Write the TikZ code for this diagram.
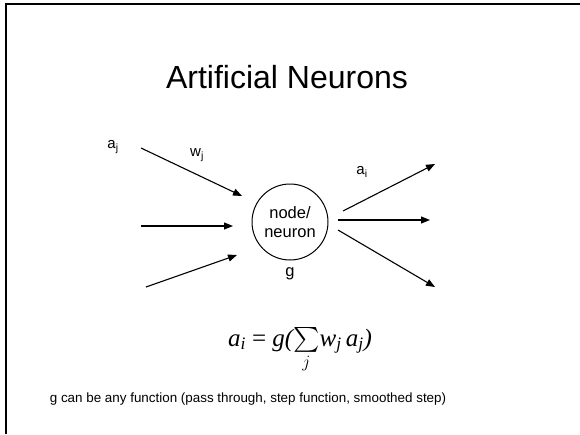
\documentclass[tikz,border=0pt]{standalone}
\usepackage{amsmath}
\usepackage{exscale}
\usepackage{fontspec}
\setmainfont{Liberation Sans}
\newfontfamily\eqfont{Liberation Serif}
\usetikzlibrary{arrows.meta}
\tikzset{
% Neuron body and the weighted links in and out of it
unit node/.style={circle,draw,line width=1pt,minimum size=76pt,inner sep=0pt,align=center,font=\fontsize{16.5}{19}\selectfont},
link/.style={line width=1.1pt,-{Triangle[length=9pt,width=7pt]}},
tag/.style={inner sep=0pt,font=\fontsize{15}{17}\selectfont}
}

\begin{document}
\begin{tikzpicture}[x=1pt,y=-1pt]
\useasboundingbox (0,0) rectangle (580,434);
\draw[line width=2pt] (580,4) -- (6,4) -- (6,434);

\node[inner sep=0pt,font=\fontsize{32}{38}\selectfont] (title) at (287,77) {Artificial Neurons};

\node[unit node] (neuron) at (290,222) {node/\\neuron};
\node[tag,font=\fontsize{16.5}{19}\selectfont] (g) at (290,274) {g};

% inputs
\coordinate (in1s) at (141,148); \coordinate (in1e) at (242,196);
\coordinate (in2s) at (141,226); \coordinate (in2e) at (233,226);
\coordinate (in3s) at (146,287); \coordinate (in3e) at (237,255);
\draw[link] (in1s) -- (in1e);
\draw[link] (in2s) -- (in2e);
\draw[link] (in3s) -- (in3e);

% outputs
\coordinate (out1s) at (343,211); \coordinate (out1e) at (435,164);
\coordinate (out2s) at (338,220); \coordinate (out2e) at (430,220);
\coordinate (out3s) at (338,230); \coordinate (out3e) at (435,287);
\draw[link] (out1s) -- (out1e);
\draw[link] (out2s) -- (out2e);
\draw[link] (out3s) -- (out3e);

\node[tag] (aj) at (113,147) {a\textsubscript{j}};
\node[tag] (wj) at (197,155) {w\textsubscript{j}};
\node[tag] (ai) at (362,172) {a\textsubscript{i}};

\node[inner sep=0pt,anchor=base,font=\fontsize{25}{30}\selectfont] (rule) at (300,346)
  {\eqfont\itshape a\textsubscript{i} {\upshape=} g({\upshape$\textstyle\sum\limits_{j}$}w\textsubscript{j}\,a\textsubscript{j})};
\node[inner sep=0pt,font=\fontsize{13.4}{16}\selectfont] (note) at (248,399)
  {g can be any function (pass through, step function, smoothed step)};
\end{tikzpicture}
\end{document}
